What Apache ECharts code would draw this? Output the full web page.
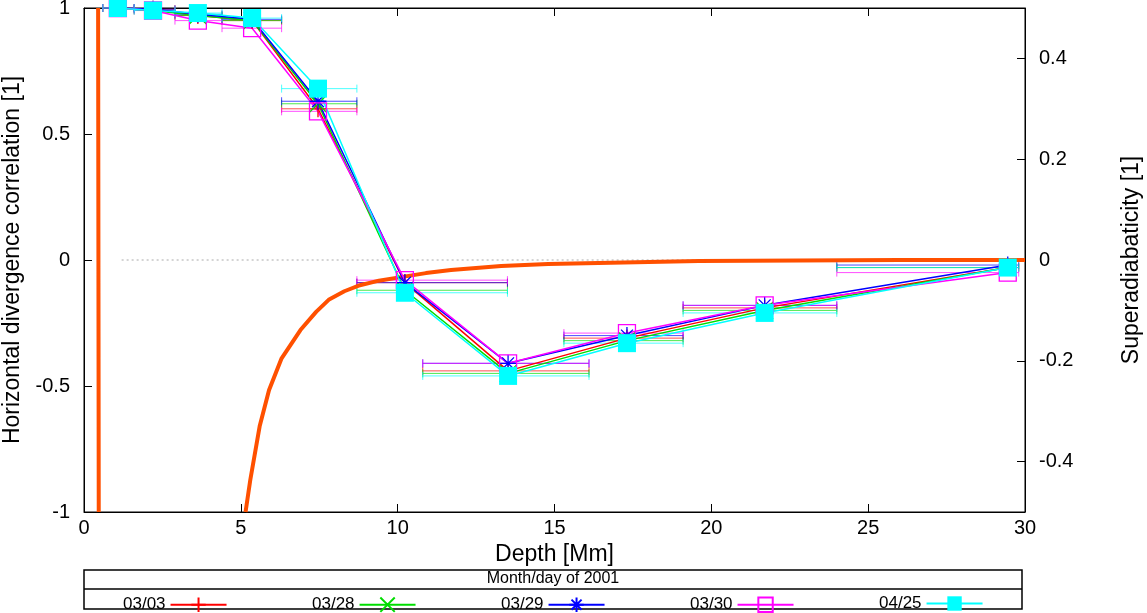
<!DOCTYPE html>
<html><head><meta charset="utf-8">
<script src="https://cdn.jsdelivr.net/npm/echarts@6/dist/echarts.min.js"></script>
<style>html,body{margin:0;padding:0;background:#fff}#main{width:1147px;height:613px}</style>
</head><body><div id="main"></div>
<script>
// depth of each point [Mm] and horizontal extent of error bars
var depths = [1.08, 2.2, 3.63, 5.36, 7.46, 10.23, 13.52, 17.31, 21.7, 29.45];
var depthLo = [0.6, 1.6, 2.9, 4.4, 6.3, 8.7, 10.8, 15.3, 19.1, 24.0];
var depthHi = [1.6, 2.9, 4.4, 6.3, 8.7, 13.5, 16.1, 19.1, 24.0, 29.8];

var names = ['03/03', '03/28', '03/29', '03/30', '04/25'];
var colors = ['#ff0000', '#00dd00', '#0000ff', '#ff00ff', '#00ffff'];
var corr0303 = [1.0, 0.995, 0.97, 0.95, 0.60, -0.09, -0.44, -0.31, -0.19, -0.03];
var corr0328 = [1.0, 0.99, 0.97, 0.95, 0.62, -0.12, -0.45, -0.32, -0.20, -0.03];
var corr0329 = [1.0, 0.995, 0.975, 0.955, 0.63, -0.09, -0.41, -0.30, -0.18, -0.02];
var corr0330 = [1.0, 0.99, 0.95, 0.92, 0.59, -0.08, -0.41, -0.29, -0.18, -0.05];
var corr0425 = [1.0, 0.99, 0.98, 0.96, 0.68, -0.13, -0.46, -0.33, -0.21, -0.03];
var allCorr = [corr0303, corr0328, corr0329, corr0330, corr0425];

// superadiabaticity curve (right axis); null breaks the line
var superX = [0.45, 0.47, null, 5.15, 5.3, 5.6, 5.9, 6.3, 6.9, 7.4, 7.8, 8.3, 8.8, 9.4, 10.1, 10.9, 11.7, 13.3, 14.8, 16.4, 18, 19.6, 22.8, 26, 30];
var superY = [0.5, -0.5, null, -0.5, -0.437, -0.33, -0.258, -0.195, -0.139, -0.103, -0.079, -0.062, -0.050, -0.041, -0.034, -0.026, -0.020, -0.012, -0.008, -0.006, -0.004, -0.002, -0.001, 0, 0];

var symbols = [
  'path://M0,5L10,5M5,0L5,10',
  'path://M0,0L10,10M10,0L0,10',
  'path://M0,5L10,5M5,0L5,10M1.5,1.5L8.5,8.5M8.5,1.5L1.5,8.5',
  'rect',
  'rect'
];

var myChart = echarts.init(document.getElementById('main'));
var font = 'Liberation Sans, Arial, sans-serif';
var series = [];

series.push({
  type: 'line', yAxisIndex: 0, silent: true, symbol: 'none',
  data: [[1.2, 0], [30, 0]],
  lineStyle: {color: '#aaa', width: 1, type: [2, 3]}
});

series.push({
  type: 'line', yAxisIndex: 1, symbol: 'none', silent: true,
  data: superX.map(function (x, i) { return x === null ? '-' : [x, superY[i]]; }),
  connectNulls: false, clip: true,
  lineStyle: {color: '#ff5000', width: 4}, z: 3
});

allCorr.forEach(function (vals, s) {
  var c = colors[s];
  series.push({
    type: 'custom', yAxisIndex: 0, silent: true, z: 2,
    data: vals.map(function (v, i) { return [depthLo[i], depthHi[i], v]; }),
    renderItem: function (params, api) {
      var a = api.coord([api.value(0), api.value(2)]);
      var b = api.coord([api.value(1), api.value(2)]);
      var st = {stroke: c, lineWidth: 1, opacity: 0.7};
      return {type: 'group', children: [
        {type: 'line', shape: {x1: a[0], y1: a[1], x2: b[0], y2: b[1]}, style: st},
        {type: 'line', shape: {x1: a[0], y1: a[1] - 4, x2: a[0], y2: a[1] + 4}, style: st},
        {type: 'line', shape: {x1: b[0], y1: b[1] - 4, x2: b[0], y2: b[1] + 4}, style: st}
      ]};
    }
  });
  var filled = s === 4;
  series.push({
    name: names[s], type: 'line', yAxisIndex: 0, z: 4,
    data: vals.map(function (v, i) { return [depths[i], v]; }),
    symbol: symbols[s], symbolSize: s === 4 ? 18 : 17,
    showAllSymbol: true,
    lineStyle: {color: c, width: 1.5},
    itemStyle: filled ? {color: c} : {color: 'none', borderColor: c, borderWidth: 1.3},
    color: c
  });
});

var legends = names.map(function (n, i) {
  return {
    data: [n], left: 118 + i * 189, top: 590, orient: 'horizontal',
    align: 'right', itemWidth: 56, itemHeight: 18, itemGap: 0, selectedMode: false,
    textStyle: {fontFamily: font, fontSize: 17, color: '#000'}
  };
});

myChart.setOption({
  animation: false,
  grid: {left: 84, right: 122, top: 8, bottom: 101, show: true, borderColor: '#000', borderWidth: 1,
    outerBoundsMode: 'none', containLabel: false},
  legend: legends,
  graphic: [
    {type: 'rect', shape: {x: 84, y: 570, width: 938, height: 39}, style: {fill: 'none', stroke: '#000', lineWidth: 1.5}},
    {type: 'line', shape: {x1: 84, y1: 589, x2: 1022, y2: 589}, style: {stroke: '#000', lineWidth: 1.5}},
    {type: 'text', x: 553, y: 571, style: {text: 'Month/day of 2001', fontFamily: font, fontSize: 16, fill: '#000', align: 'center'}}
  ],
  xAxis: [{
    type: 'value', min: 0, max: 30, interval: 5,
    name: 'Depth [Mm]', nameLocation: 'middle', nameGap: 28,
    nameTextStyle: {fontFamily: font, fontSize: 23, color: '#000'},
    axisLine: {onZero: false, lineStyle: {color: '#000'}},
    axisTick: {inside: true, length: 8, lineStyle: {color: '#000'}},
    axisLabel: {fontFamily: font, fontSize: 20, color: '#000', margin: 6},
    splitLine: {show: false}
  }, {
    type: 'value', min: 0, max: 30, interval: 5, position: 'top',
    axisLine: {onZero: false, lineStyle: {color: '#000'}},
    axisTick: {inside: true, length: 8, lineStyle: {color: '#000'}},
    axisLabel: {show: false}, splitLine: {show: false}
  }],
  yAxis: [{
    type: 'value', min: -1, max: 1, interval: 0.5,
    name: 'Horizontal divergence correlation [1]', nameLocation: 'middle', nameGap: 60,
    nameTextStyle: {fontFamily: font, fontSize: 23, color: '#000'},
    axisLine: {show: true, onZero: false, lineStyle: {color: '#000'}},
    axisTick: {inside: true, length: 8, lineStyle: {color: '#000'}},
    axisLabel: {fontFamily: font, fontSize: 20, color: '#000', margin: 14},
    splitLine: {show: false}
  }, {
    type: 'value', min: -0.5, max: 0.5,
    name: 'Superadiabaticity [1]', nameLocation: 'middle', nameGap: 95, nameRotate: 90,
    nameTextStyle: {fontFamily: font, fontSize: 23, color: '#000'},
    axisLine: {show: true, onZero: false, lineStyle: {color: '#000'}},
    axisTick: {inside: true, length: 8, customValues: [-0.4, -0.2, 0, 0.2, 0.4], lineStyle: {color: '#000'}},
    axisLabel: {fontFamily: font, fontSize: 20, color: '#000', margin: 14, customValues: [-0.4, -0.2, 0, 0.2, 0.4]},
    splitLine: {show: false}
  }],
  series: series
});
</script>
</body></html>
